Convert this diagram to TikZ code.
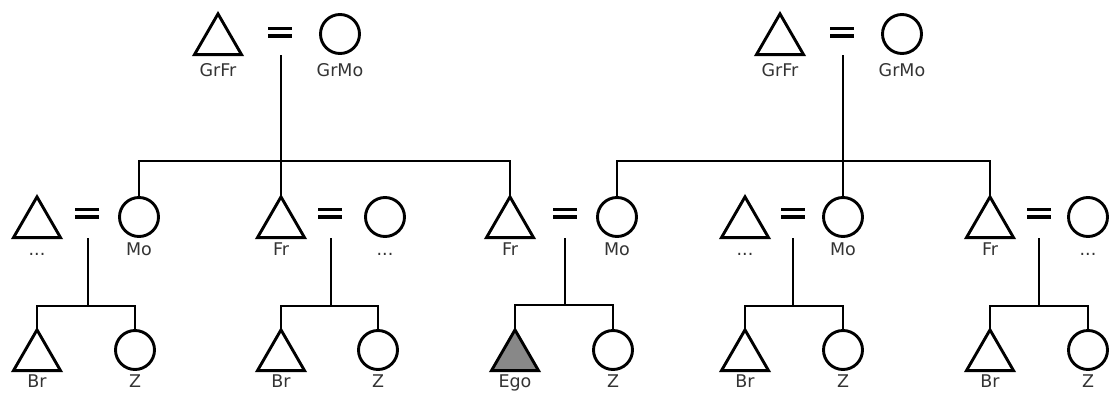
\documentclass[tikz,border=0pt]{standalone}
\usepackage{fontspec}
\setmainfont{DejaVu Sans}
\usetikzlibrary{shapes.geometric}
\definecolor{egogray}{RGB}{136,136,136}
\tikzset{
  male/.style={regular polygon, regular polygon sides=3, draw, line width=2.9pt,
    minimum size=54.3pt, inner sep=0pt, outer sep=0pt},
  female/.style={circle, draw, line width=2.9pt, minimum size=39pt, inner sep=0pt, outer sep=0pt},
  ego/.style={male, fill=egogray},
  eqsign/.style={line width=3.2pt, double=white, double distance=4.6pt},
  link/.style={line width=2.9pt},
  lbl/.style={anchor=base, inner sep=0pt, font=\fontsize{17.5}{20}\selectfont, text=black!80}
}
\begin{document}
\begin{tikzpicture}[x=1pt,y=-1pt]
\useasboundingbox (0,0) rectangle (1109,394);

% ---------- top row ----------
\node[male] (gf1) at (218,41) {};
\node[female] (gm1) at (340,34) {};
\coordinate (e0) at (280,32);
\coordinate (d0) at (281,55);
\coordinate (j0) at (281,161);
\node[lbl] (lgf1) at (218,76) {GrFr};
\node[lbl] (lgm1) at (340,76) {GrMo};

\node[male] (gf2) at (780,41) {};
\node[female] (gm2) at (902,34) {};
\coordinate (e00) at (842,32);
\coordinate (d00) at (843,55);
\coordinate (j00) at (843,161);
\node[lbl] (lgf2) at (780,76) {GrFr};
\node[lbl] (lgm2) at (902,76) {GrMo};

% ---------- middle row ----------
\node[male] (h1) at (37,224) {};
\node[female] (w1) at (139,217) {};
\coordinate (e1) at (87,213);
\coordinate (d1) at (88,238);
\coordinate (j1) at (88,306);
\node[lbl] (lh1) at (37,255) {...};
\node[lbl] (lw1) at (139,255) {Mo};

\node[male] (h2) at (281,224) {};
\node[female] (w2) at (385,217) {};
\coordinate (e2) at (330,213);
\coordinate (d2) at (331,238);
\coordinate (j2) at (331,306);
\node[lbl] (lh2) at (281,255) {Fr};
\node[lbl] (lw2) at (385,255) {...};

\node[male] (h3) at (510,224) {};
\node[female] (w3) at (617,217) {};
\coordinate (e3) at (565,213);
\coordinate (d3) at (565,238);
\coordinate (j3) at (565,305);
\node[lbl] (lh3) at (510,255) {Fr};
\node[lbl] (lw3) at (617,255) {Mo};

\node[male] (h4) at (745,224) {};
\node[female] (w4) at (843,217) {};
\coordinate (e4) at (793,213);
\coordinate (d4) at (793,238);
\coordinate (j4) at (793,306);
\node[lbl] (lh4) at (745,255) {...};
\node[lbl] (lw4) at (843,255) {Mo};

\node[male] (h5) at (990,224) {};
\node[female] (w5) at (1088,217) {};
\coordinate (e5) at (1039,213);
\coordinate (d5) at (1039,238);
\coordinate (j5) at (1039,306);
\node[lbl] (lh5) at (990,255) {Fr};
\node[lbl] (lw5) at (1088,255) {...};

% ---------- bottom row ----------
\node[male] (b1) at (37,357) {};
\node[female] (z1) at (135,350) {};
\node[lbl] (lb1) at (37,387) {Br};
\node[lbl] (lz1) at (135,387) {Z};

\node[male] (b2) at (281,357) {};
\node[female] (z2) at (378,350) {};
\node[lbl] (lb2) at (281,387) {Br};
\node[lbl] (lz2) at (378,387) {Z};

\node[ego] (b3) at (515,357) {};
\node[female] (z3) at (613,350) {};
\node[lbl] (lb3) at (515,387) {Ego};
\node[lbl] (lz3) at (613,387) {Z};

\node[male] (b4) at (745,357) {};
\node[female] (z4) at (843,350) {};
\node[lbl] (lb4) at (745,387) {Br};
\node[lbl] (lz4) at (843,387) {Z};

\node[male] (b5) at (990,357) {};
\node[female] (z5) at (1088,350) {};
\node[lbl] (lb5) at (990,387) {Br};
\node[lbl] (lz5) at (1088,387) {Z};

% ---------- equals signs ----------
\foreach \e in {e0,e00,e1,e2,e3,e4,e5}
  \draw[eqsign] ([xshift=-12pt]\e) -- ([xshift=12pt]\e);

% ---------- descent lines ----------
\draw[link] (d0) -- (j0);
\draw[link] (w1.north) |- (j0) -| (h3.north);
\draw[link] (j0) -- (h2.north);

\draw[link] (d00) -- (j00);
\draw[link] (w3.north) |- (j00) -| (h5.north);
\draw[link] (j00) -- (w4.north);

\draw[link] (d1) -- (j1);
\draw[link] (b1.north) |- (j1) -| (z1.north);
\draw[link] (d2) -- (j2);
\draw[link] (b2.north) |- (j2) -| (z2.north);
\draw[link] (d3) -- (j3);
\draw[link] (b3.north) |- (j3) -| (z3.north);
\draw[link] (d4) -- (j4);
\draw[link] (b4.north) |- (j4) -| (z4.north);
\draw[link] (d5) -- (j5);
\draw[link] (b5.north) |- (j5) -| (z5.north);
\end{tikzpicture}
\end{document}
